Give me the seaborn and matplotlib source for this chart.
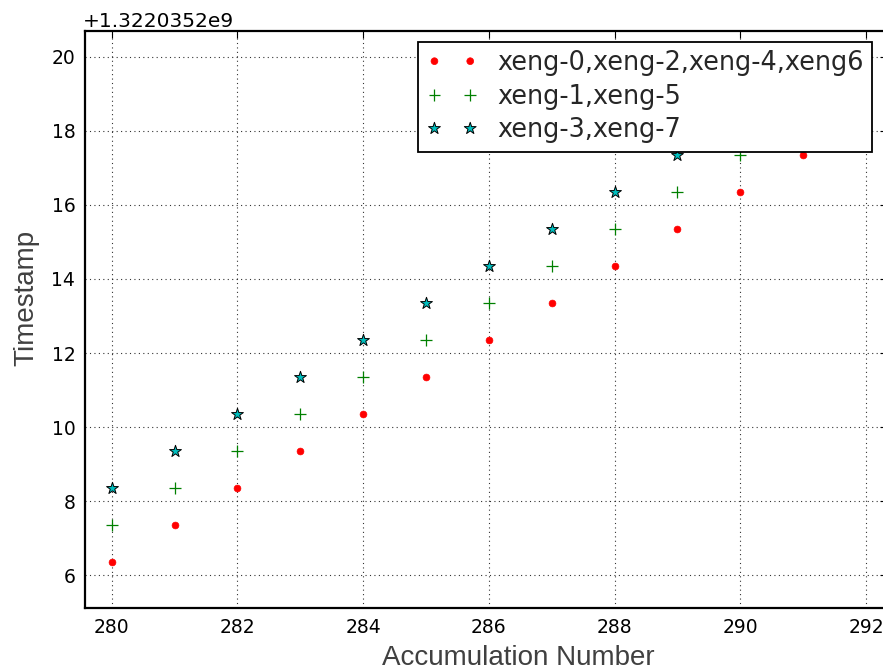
import matplotlib
matplotlib.use("Agg")
import matplotlib.pyplot as plt
import seaborn as sns
import pandas as pd

# Accumulation numbers and timestamp offsets (seconds above 1322035200)
acc_even = [280, 281, 282, 283, 284, 285, 286, 287, 288, 289, 290, 291]
ts_even = [6.35, 7.35, 8.35, 9.35, 10.35, 11.35, 12.35, 13.35, 14.35, 15.35, 16.35, 17.35]

acc_15 = [280, 281, 282, 283, 284, 285, 286, 287, 288, 289, 290]
ts_15 = [7.35, 8.35, 9.35, 10.35, 11.35, 12.35, 13.35, 14.35, 15.35, 16.35, 17.35]

acc_37 = [280, 281, 282, 283, 284, 285, 286, 287, 288, 289]
ts_37 = [8.35, 9.35, 10.35, 11.35, 12.35, 13.35, 14.35, 15.35, 16.35, 17.35]

labels = ["xeng-0,xeng-2,xeng-4,xeng6", "xeng-1,xeng-5", "xeng-3,xeng-7"]
x_ticks = [280, 282, 284, 286, 288, 290, 292]
y_ticks = [6, 8, 10, 12, 14, 16, 18, 20]
base = 1322035200

sns.set_style("white")
plt.rcParams["font.family"] = ["DejaVu Sans"]
plt.rcParams.update({
    "xtick.direction": "in", "ytick.direction": "in",
    "xtick.top": True, "ytick.right": True,
    "xtick.major.size": 5, "ytick.major.size": 5,
    "xtick.major.width": 0.8, "ytick.major.width": 0.8,
    "xtick.color": "black", "ytick.color": "black",
    "axes.edgecolor": "black", "axes.linewidth": 1.6,
})

frames = [
    pd.DataFrame({"acc": acc_even, "ts": [base + v for v in ts_even]}),
    pd.DataFrame({"acc": acc_15, "ts": [base + v for v in ts_15]}),
    pd.DataFrame({"acc": acc_37, "ts": [base + v for v in ts_37]}),
]

W, H = 883, 671
fig = plt.figure(figsize=(W / 100, H / 100), dpi=100)
# axes run just past the right edge of the canvas
ax_l, ax_r, ax_t, ax_b = 85, 887, 30.7, 608.3
ax = fig.add_axes([ax_l / W, 1 - ax_b / H, (ax_r - ax_l) / W, (ax_b - ax_t) / H])
ax.spines["right"].set_visible(False)

sns.scatterplot(data=frames[0], x="acc", y="ts", ax=ax, marker="o", s=24,
                color="red", edgecolor="red", linewidth=0.5, label=labels[0], zorder=3)
sns.scatterplot(data=frames[1], x="acc", y="ts", ax=ax, marker="+", s=70,
                color="green", linewidth=0.9, label=labels[1], zorder=3)
sns.scatterplot(data=frames[2], x="acc", y="ts", ax=ax, marker="*", s=80,
                color="#00bfbf", edgecolor="black", linewidth=0.7, label=labels[2], zorder=3)

ax.set_xlim(279.575, 292.335)
ax.set_ylim(base + 5.11, base + 20.70)
ax.set_xticks(x_ticks)
ax.set_yticks([base + v for v in y_ticks])
ax.ticklabel_format(axis="y", useOffset=base, style="plain")
ax.yaxis.get_offset_text().set_fontsize(14.5)
ax.yaxis.get_offset_text().set_x(-0.003)
ax.tick_params(labelsize=13.5, pad=7)

ax.grid(True, color="black", linestyle=(0, (1, 3)), linewidth=0.8, alpha=0.8)
ax.set_axisbelow(True)

ax.set_xlabel("Accumulation Number", fontsize=20, family=["Liberation Sans"],
              color="#404040")
ax.set_ylabel("Timestamp", fontsize=20, family=["Liberation Sans"],
              color="#404040")
ax_w, ax_h = ax_r - ax_l, ax_b - ax_t
ax.xaxis.label.set_va("baseline")
ax.xaxis.set_label_coords((518 - ax_l) / ax_w, (ax_b - 665) / ax_h)
ax.yaxis.label.set_va("baseline")
ax.yaxis.set_label_coords((33 - ax_l) / ax_w, (ax_b - 298) / ax_h)

leg = ax.legend(loc="upper right", bbox_to_anchor=(872 / W, 1 - 41.7 / H),
                bbox_transform=fig.transFigure, borderaxespad=0,
                scatterpoints=2, scatteryoffsets=[0.5],
                fontsize=18.4, frameon=True, fancybox=False, framealpha=1,
                edgecolor="black", handletextpad=0.75,
                labelspacing=0.3, handlelength=2.0, borderpad=0.33)
leg.get_frame().set_linewidth(1.3)

fig.savefig("out.png", dpi=100)
